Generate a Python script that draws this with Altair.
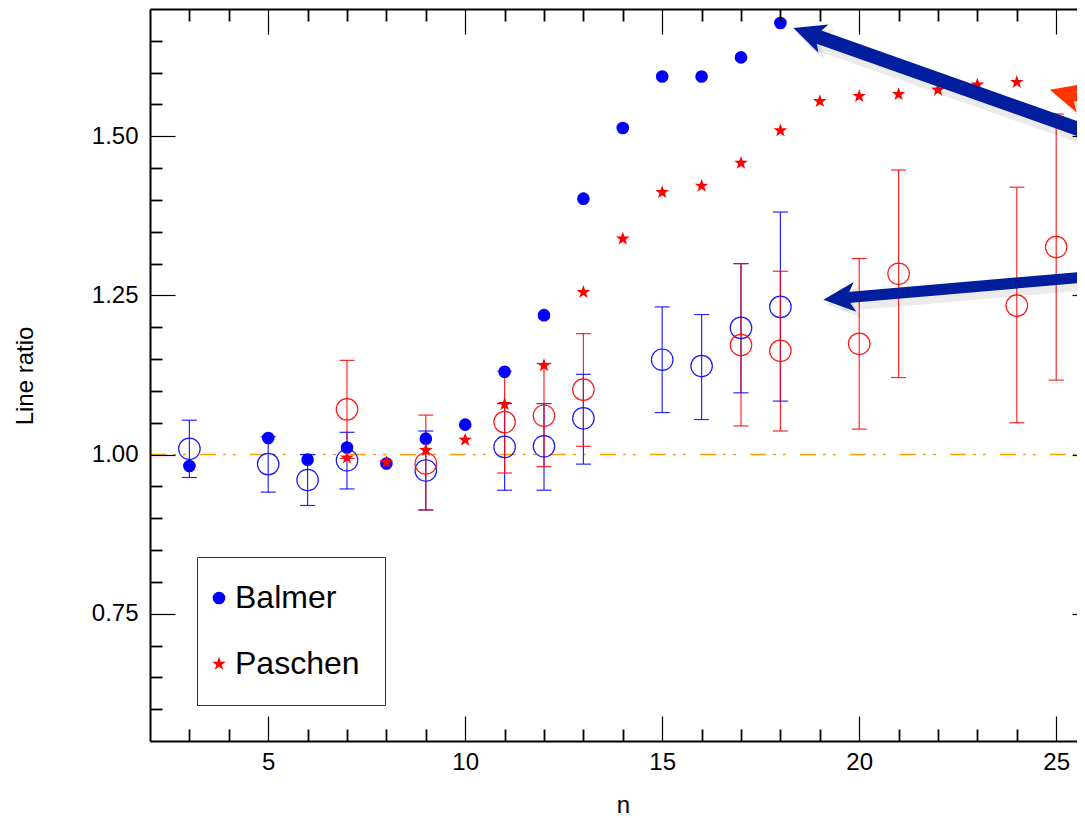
import math
import altair as alt
import pandas as pd

# ---------------- data ----------------
# theoretical / model ratios (filled symbols)
balmer_n = [3, 5, 6, 7, 8, 9, 10, 11, 12, 13, 14, 15, 16, 17, 18]
balmer_ratio = [0.982, 1.026, 0.992, 1.011, 0.986, 1.025, 1.047, 1.130, 1.219,
                1.402, 1.513, 1.594, 1.594, 1.624, 1.678]
paschen_n = [7, 8, 9, 10, 11, 12, 13, 14, 15, 16, 17, 18, 19, 20, 21, 22, 23, 24]
paschen_ratio = [0.995, 0.988, 1.007, 1.023, 1.079, 1.140, 1.255, 1.339, 1.412,
                 1.422, 1.458, 1.509, 1.555, 1.563, 1.566, 1.573, 1.581, 1.585]

# observed ratios with error bars (open circles)
balmer_obs_n = [3, 5, 6, 7, 9, 11, 12, 13, 15, 16, 17, 18]
balmer_obs = [1.009, 0.985, 0.960, 0.991, 0.975, 1.012, 1.013, 1.057, 1.149, 1.139, 1.199, 1.232]
balmer_obs_lo = [0.964, 0.941, 0.920, 0.946, 0.913, 0.944, 0.944, 0.985, 1.066, 1.055, 1.097, 1.084]
balmer_obs_hi = [1.054, 1.028, 1.000, 1.035, 1.037, 1.080, 1.080, 1.126, 1.232, 1.220, 1.300, 1.381]

paschen_obs_n = [7, 9, 11, 12, 13, 17, 18, 20, 21, 24, 25]
paschen_obs = [1.071, 0.986, 1.051, 1.061, 1.102, 1.172, 1.163, 1.174, 1.284, 1.234, 1.326]
paschen_obs_lo = [0.994, 0.913, 0.971, 0.981, 1.013, 1.045, 1.037, 1.040, 1.121, 1.050, 1.117]
paschen_obs_hi = [1.148, 1.062, 1.131, 1.143, 1.190, 1.300, 1.288, 1.308, 1.447, 1.420, 1.535]

# annotation arrows (data coordinates of tip and tail)
arrow_tip_n = [18.33, 19.09, 24.84]
arrow_tip_r = [1.670, 1.2433, 1.573]
arrow_tail_n = [27.0, 27.0, 27.0]
arrow_tail_r = [1.480, 1.2856, 1.537]

# tick values
x_major = [5, 10, 15, 20, 25]
x_minor = [3, 4, 6, 7, 8, 9, 11, 12, 13, 14, 16, 17, 18, 19, 21, 22, 23, 24]
y_major = [0.75, 1.00, 1.25, 1.50]
y_minor = [0.60, 0.65, 0.70, 0.80, 0.85, 0.90, 0.95, 1.05, 1.10, 1.15, 1.20,
           1.30, 1.35, 1.40, 1.45, 1.55, 1.60, 1.65]

# ---------------- styles ----------------
FONT = "Liberation Sans"
W, H = 927, 732
X_MIN, X_MAX = 2.0, 2.0 + W / 39.4
Y_MIN, Y_MAX = 0.55, 1.70
BLUE = "#0000ff"
RED = "#ff0000"
ARROW_BLUE = "#001e9e"
ARROW_RED = "#ff3300"
arrow_color = [ARROW_BLUE, ARROW_BLUE, ARROW_RED]
arrow_width = [14, 11, 9]
arrow_angle = [19.5, 355.0, 15.0]
HEAD = "M0,0L1.7,-0.8L1.25,0L1.7,0.8Z"
STAR = ("M0,-1L0.235,-0.324L0.951,-0.309L0.380,0.124L0.588,0.809L0,0.4"
        "L-0.588,0.809L-0.380,0.124L-0.951,-0.309L-0.235,-0.324Z")
HEAD_SIZE = 1400
SHAFT_GAP = 16

# reference line (ratio = 1) across the full range
ref_n = [X_MIN, X_MAX]
ref_ratio = [1.0, 1.0]

# ---------------- tables ----------------
filled = pd.DataFrame({
    "n": balmer_n + paschen_n,
    "ratio": balmer_ratio + paschen_ratio,
    "series": ["Balmer"] * len(balmer_n) + ["Paschen"] * len(paschen_n),
})
bobs = pd.DataFrame({"n": balmer_obs_n, "ratio": balmer_obs, "lo": balmer_obs_lo, "hi": balmer_obs_hi})
pobs = pd.DataFrame({"n": paschen_obs_n, "ratio": paschen_obs, "lo": paschen_obs_lo, "hi": paschen_obs_hi})
ref = pd.DataFrame({"n": ref_n, "ratio": ref_ratio})

PX_N = W / (X_MAX - X_MIN)
PX_R = H / (Y_MAX - Y_MIN)
rows = []
for i in range(len(arrow_tip_n)):
    dxp = (arrow_tail_n[i] - arrow_tip_n[i]) * PX_N
    dyp = (arrow_tail_r[i] - arrow_tip_r[i]) * PX_R
    f = SHAFT_GAP / math.hypot(dxp, dyp)
    rows.append({
        "tn": arrow_tip_n[i], "tr": arrow_tip_r[i],
        "sn": arrow_tip_n[i] + f * (arrow_tail_n[i] - arrow_tip_n[i]),
        "sr": arrow_tip_r[i] + f * (arrow_tail_r[i] - arrow_tip_r[i]),
        "en": arrow_tail_n[i], "er": arrow_tail_r[i],
        "col": arrow_color[i], "w": arrow_width[i], "ws": arrow_width[i] + 5,
        "angle": arrow_angle[i],
    })
arrows = pd.DataFrame(rows)

xs = alt.Scale(domain=[X_MIN, X_MAX], nice=False, zero=False)
ys = alt.Scale(domain=[Y_MIN, Y_MAX], nice=False, zero=False)


def tick_axis(orient, offset, values, size, width):
    return alt.Axis(orient=orient, offset=offset, values=values, tickSize=size,
                    tickWidth=width, tickColor="black", ticks=True, labels=False,
                    domain=False, grid=False, title=None, zindex=1)


AX_LABEL = alt.Axis(orient="bottom", values=x_major, ticks=False, tickSize=0,
                    domain=True, domainColor="black", domainWidth=2, grid=False,
                    labelFontSize=24, labelFont=FONT, labelColor="black",
                    labelPadding=9, labelFlush=False, zindex=1,
                    title="n", titleFont=FONT, titleFontSize=24, titleFontWeight="normal",
                    titleColor="black", titleX=473, titleY=64, titleAlign="center",
                    titleBaseline="middle")
AY_LABEL = alt.Axis(orient="left", values=y_major, format=".2f", ticks=False, tickSize=0,
                    domain=True, domainColor="black", domainWidth=2, grid=False,
                    labelFontSize=24, labelFont=FONT, labelColor="black",
                    labelPadding=12, labelFlush=False, zindex=1,
                    title="Line ratio", titleFont=FONT, titleFontSize=24,
                    titleFontWeight="normal", titleColor="black", titleX=-125,
                    titleY=366.5, titleAngle=270, titleAlign="center",
                    titleBaseline="middle")
AX_TOP_MAJ = alt.Axis(orient="bottom", offset=-H, values=x_major, tickSize=25,
                      tickWidth=1.2, tickColor="black", labels=False, domain=True,
                      domainColor="black", domainWidth=2, grid=False, title=None, zindex=1)

base_ref = alt.Chart(ref).mark_line(color="#ffa000", strokeWidth=1.6,
                                    strokeDash=[16, 7, 3, 7, 3, 14], clip=True).encode(
    x=alt.X("n:Q", scale=xs, axis=None),
    y=alt.Y("ratio:Q", scale=ys, axis=None),
)

b_err = alt.Chart(bobs).mark_rule(color=BLUE, strokeWidth=1.2, opacity=0.85).encode(
    x=alt.X("n:Q", scale=xs, axis=AX_LABEL),
    y=alt.Y("lo:Q", scale=ys, axis=AY_LABEL),
    y2="hi:Q",
)
p_err = alt.Chart(pobs).mark_rule(color=RED, strokeWidth=1.2, opacity=0.85).encode(
    x=alt.X("n:Q", scale=xs, axis=tick_axis("top", -H, x_major, 25, 1.2)),
    y=alt.Y("lo:Q", scale=ys, axis=tick_axis("right", -W, y_major, 25, 1.2)),
    y2="hi:Q",
)
b_cap = alt.Chart(bobs).transform_fold(["lo", "hi"]).mark_tick(
    color=BLUE, orient="horizontal", size=15, thickness=1.2, opacity=0.85).encode(
    x=alt.X("n:Q", scale=xs, axis=tick_axis("top", -H, x_minor, 12, 1.8)),
    y=alt.Y("value:Q", scale=ys, axis=tick_axis("right", -W, y_minor, 12, 1.8)),
)
p_cap = alt.Chart(pobs).transform_fold(["lo", "hi"]).mark_tick(
    color=RED, orient="horizontal", size=15, thickness=1.2, opacity=0.85).encode(
    x=alt.X("n:Q", scale=xs, axis=AX_TOP_MAJ),
    y=alt.Y("value:Q", scale=ys, axis=tick_axis("left", -W, y_major, 5, 1.2)),
)
b_open = alt.Chart(bobs).mark_point(color=BLUE, shape="circle", size=462, strokeWidth=1.2,
                                    filled=False, opacity=0.9).encode(
    x=alt.X("n:Q", scale=xs, axis=tick_axis("bottom", -H, x_minor, 12, 1.8)),
    y=alt.Y("ratio:Q", scale=ys, axis=None),
)
p_open = alt.Chart(pobs).mark_point(color=RED, shape="circle", size=462, strokeWidth=1.2,
                                    filled=False, opacity=0.9).encode(
    x=alt.X("n:Q", scale=xs, axis=None),
    y=alt.Y("ratio:Q", scale=ys, axis=None),
)
model = alt.Chart(filled).mark_point(filled=True, opacity=1, strokeWidth=0).encode(
    x=alt.X("n:Q", scale=xs, axis=None),
    y=alt.Y("ratio:Q", scale=ys, axis=None),
    color=alt.Color("series:N", scale=alt.Scale(domain=["Balmer", "Paschen"], range=[BLUE, RED]),
                    legend=alt.Legend(title=None)),
    shape=alt.Shape("series:N", scale=alt.Scale(domain=["Balmer", "Paschen"], range=["circle", STAR]),
                    legend=alt.Legend(title=None)),
    size=alt.Size("series:N", scale=alt.Scale(domain=["Balmer", "Paschen"], range=[160, 205]),
                  legend=alt.Legend(title=None)),
)

shadow_rule = alt.Chart(arrows).mark_rule(color="black", opacity=0.08, clip=True,
                                          xOffset=3, yOffset=5, x2Offset=3, y2Offset=5).encode(
    x=alt.X("sn:Q", scale=xs, axis=None), y=alt.Y("sr:Q", scale=ys, axis=None),
    x2="en:Q", y2="er:Q",
    strokeWidth=alt.StrokeWidth("ws:Q", scale=None),
)
shadow_head = alt.Chart(arrows).mark_point(shape=HEAD, size=HEAD_SIZE + 300, filled=True,
                                           color="black", opacity=0.08, clip=True,
                                           xOffset=3, yOffset=5).encode(
    x=alt.X("tn:Q", scale=xs, axis=None), y=alt.Y("tr:Q", scale=ys, axis=None),
    angle=alt.Angle("angle:Q", scale=None),
)
shaft = alt.Chart(arrows).mark_rule(clip=True).encode(
    x=alt.X("sn:Q", scale=xs, axis=None), y=alt.Y("sr:Q", scale=ys, axis=None),
    x2="en:Q", y2="er:Q",
    stroke=alt.Stroke("col:N", scale=None),
    strokeWidth=alt.StrokeWidth("w:Q", scale=None),
)
head = alt.Chart(arrows).mark_point(shape=HEAD, size=HEAD_SIZE, filled=True, opacity=1,
                                    strokeWidth=0, clip=True).encode(
    x=alt.X("tn:Q", scale=xs, axis=None), y=alt.Y("tr:Q", scale=ys, axis=None),
    fill=alt.Fill("col:N", scale=None),
    angle=alt.Angle("angle:Q", scale=None),
)

chart = alt.layer(
    base_ref, b_err, p_err, b_cap, p_cap, b_open, p_open, model,
    shadow_rule, shadow_head, shaft, head,
).resolve_axis(x="independent", y="independent").properties(
    width=W, height=H,
    autosize=alt.AutoSizeParams(type="none"),
    padding={"left": 142, "top": 1, "right": 0, "bottom": 77},
).configure(font=FONT).configure_view(stroke=None).configure_axis(
    titleFont=FONT, titleFontWeight="normal", titleColor="black",
    labelFont=FONT, labelColor="black",
).configure_legend(
    orient="none", legendX=47, legendY=548, fillColor="white", strokeColor="#333333",
    padding=25, labelFontSize=32, labelFont=FONT, labelColor="black",
    symbolOffset=-19, labelOffset=0, rowPadding=34, symbolStrokeWidth=0,
)

chart.save("out.html", embed_options={"renderer": "svg", "actions": False})
